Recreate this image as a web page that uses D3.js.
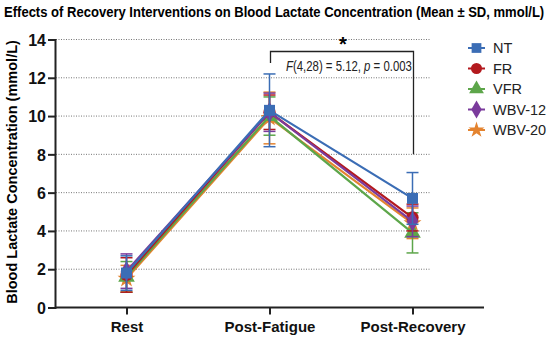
<!DOCTYPE html>
<html>
<head>
<meta charset="utf-8">
<script src="https://cdn.jsdelivr.net/npm/d3@7"></script>
<style>
body { margin: 0; background: #fff; }
svg { display: block; font-family: "Liberation Sans", Arial, sans-serif; }
</style>
</head>
<body>
<script>
// data
var phases = ["Rest", "Post-Fatigue", "Post-Recovery"];
var groups = ["NT", "FR", "VFR", "WBV-12", "WBV-20"];
var colors = ["#3b6db5", "#b3191e", "#5da64a", "#7b3b9c", "#e4832f"];
var symbols = [d3.symbolSquare, d3.symbolCircle, d3.symbolTriangle, d3.symbolDiamond, d3.symbolStar];

var meanNT = [1.8, 10.3, 5.7];
var meanFR = [1.7, 10.2, 4.7];
var meanVFR = [1.6, 10.0, 3.9];
var meanWBV12 = [1.9, 10.2, 4.5];
var meanWBV20 = [1.5, 9.9, 4.4];

var sdNT = [0.9, 1.9, 1.35];
var sdFR = [0.9, 0.9, 0.7];
var sdVFR = [0.8, 1.0, 1.05];
var sdWBV12 = [0.9, 1.0, 0.8];
var sdWBV20 = [0.7, 1.35, 0.8];

var yTicks = [0, 2, 4, 6, 8, 10, 12, 14];
var statText = ["F", "(4,28) = 5.12, ", "p", " = 0.003"];

var means = [meanNT, meanFR, meanVFR, meanWBV12, meanWBV20];
var sds = [sdNT, sdFR, sdVFR, sdWBV12, sdWBV20];

var svg = d3.select("body").append("svg")
    .attr("width", 550)
    .attr("height", 340);

var x = d3.scalePoint().domain(phases).range([55, 484]).padding(0.5);
var y = d3.scaleLinear().domain([0, 14]).range([307.5, 39.5]);

// squeeze a text horizontally so it spans w pixels (the figure uses a narrow face)
function squeeze(sel, tx, ty, w, rot) {
    var len = sel.node().getComputedTextLength();
    var k = w / len;
    sel.attr("transform", "translate(" + tx + "," + ty + ")" + (rot ? " rotate(" + rot + ")" : "") + " scale(" + k + ",1)");
}

// title
var title = svg.append("text")
    .attr("font-size", 14)
    .attr("font-weight", "bold")
    .text("Effects of Recovery Interventions on Blood Lactate Concentration (Mean \u00b1 SD, mmol/L)");
squeeze(title, 4, 17, 541);

// grid
svg.append("g").selectAll("line")
    .data(yTicks.filter(function(d) { return d > 0; }))
    .join("line")
    .attr("x1", 56).attr("x2", 430)
    .attr("y1", function(d) { return y(d); })
    .attr("y2", function(d) { return y(d); })
    .attr("stroke", "#777")
    .attr("stroke-width", 1)
    .attr("stroke-dasharray", "1,1.5");

// axes
var yAxis = svg.append("g")
    .attr("transform", "translate(55,0)")
    .call(d3.axisLeft(y).tickValues(yTicks).tickSize(7).tickPadding(2));
var xAxis = svg.append("g")
    .attr("transform", "translate(0,307.5)")
    .call(d3.axisBottom(x).tickSize(7).tickPadding(7));

[yAxis, xAxis].forEach(function(ax) {
    ax.select(".domain").attr("stroke", "#222").attr("stroke-width", 2);
    ax.selectAll(".tick line").attr("stroke", "#222").attr("stroke-width", 2);
    ax.selectAll("text")
        .attr("font-family", "Liberation Sans, Arial, sans-serif")
        .attr("font-size", 15)
        .attr("font-weight", "bold")
        .attr("fill", "#111");
});
xAxis.select(".domain").attr("d", "M55,0H484");
yAxis.selectAll("text").attr("font-size", 16).attr("dy", "0.36em");

// y label
var ylab = svg.append("text")
    .attr("text-anchor", "middle")
    .attr("font-size", 14.5)
    .attr("font-weight", "bold")
    .text("Blood Lactate Concentration (mmol/L)");
squeeze(ylab, 17, 172, 264, -90);

// series
var line = d3.line()
    .x(function(d, i) { return x(phases[i]); })
    .y(function(d) { return y(d); });

var order = [4, 2, 1, 3, 0];
order.forEach(function(g) {
    var grp = svg.append("g");
    var m = means[g], s = sds[g];
    // error bars
    phases.forEach(function(p, i) {
        var cx = x(p);
        grp.append("line")
            .attr("x1", cx).attr("x2", cx)
            .attr("y1", y(m[i] + s[i])).attr("y2", y(m[i] - s[i]))
            .attr("stroke", colors[g]).attr("stroke-width", 1.5);
        [m[i] + s[i], m[i] - s[i]].forEach(function(v) {
            grp.append("line")
                .attr("x1", cx - 6).attr("x2", cx + 6)
                .attr("y1", y(v)).attr("y2", y(v))
                .attr("stroke", colors[g]).attr("stroke-width", 1.5);
        });
    });
    grp.append("path")
        .datum(m)
        .attr("fill", "none")
        .attr("stroke", colors[g])
        .attr("stroke-width", 2.2)
        .attr("d", line);
    grp.selectAll("path.pt")
        .data(m)
        .join("path")
        .attr("class", "pt")
        .attr("transform", function(d, i) { return "translate(" + x(phases[i]) + "," + y(d) + ")"; })
        .attr("d", d3.symbol().type(symbols[g]).size(g === 4 ? 100 : 120))
        .attr("fill", colors[g]);
});

// significance bracket
var xa = x("Post-Fatigue"), xb = x("Post-Recovery");
svg.append("path")
    .attr("d", "M" + (xa + 1) + "," + 63 + "V51.5H" + (xb + 1) + "V" + y(8.0))
    .attr("fill", "none")
    .attr("stroke", "#222")
    .attr("stroke-width", 1.3);
svg.append("text")
    .attr("x", (xa + xb) / 2 + 2).attr("y", 51)
    .attr("text-anchor", "middle")
    .attr("font-size", 20)
    .attr("font-weight", "bold")
    .text("*");
var st = svg.append("text")
    .attr("font-size", 14)
    .attr("fill", "#222");
statText.forEach(function(t, i) {
    st.append("tspan").attr("font-style", i % 2 === 0 ? "italic" : "normal").text(t);
});
squeeze(st, 286, 71, 126);

// legend
var leg = svg.append("g").attr("transform", "translate(468,48)");
groups.forEach(function(name, g) {
    var row = leg.append("g").attr("transform", "translate(0," + (g * 20.5) + ")");
    row.append("line").attr("x1", 0).attr("x2", 17)
        .attr("stroke", colors[g]).attr("stroke-width", 2);
    row.append("path")
        .attr("transform", "translate(8.5,0)")
        .attr("d", d3.symbol().type(symbols[g]).size(g === 4 ? 80 : 95))
        .attr("fill", colors[g]);
    row.append("text")
        .attr("x", 25).attr("y", 0).attr("dy", "0.36em")
        .attr("font-size", 14.5)
        .attr("fill", "#222")
        .text(name);
});
</script>
</body>
</html>
